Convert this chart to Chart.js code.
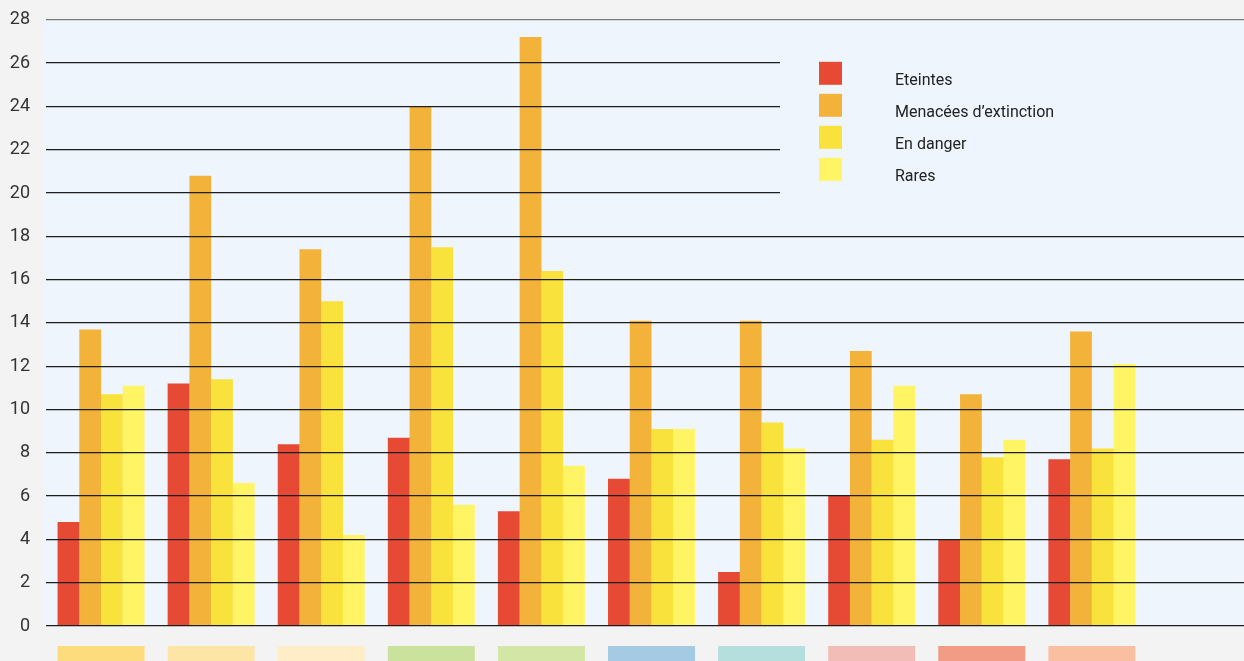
<!DOCTYPE html>
<html>
<head>
<meta charset="utf-8">
<script src="https://cdn.jsdelivr.net/npm/chart.js@4"></script>
<style>
  html, body { margin: 0; padding: 0; background: #f3f3f3; overflow: hidden; }
  #wrap { position: relative; width: 1257px; height: 668px; margin-top: -7px; }
</style>
</head>
<body>
<div id="wrap"><canvas id="chart"></canvas></div>
<script>
// Catégories (la dernière reste vide)
const categories = ['1', '2', '3', '4', '5', '6', '7', '8', '9', '10', ''];
const categoryColors = ['#fcdc7c', '#fde5a5', '#feedc7', '#cbe29c', '#d4e6a6',
                        '#a5cae4', '#b5dfdc', '#f2bdb6', '#f39c85', '#f9bfa0'];

const seriesNames = ['Eteintes', 'Menacées d\u2019extinction', 'En danger', 'Rares'];
const seriesColors = ['#e64a35', '#f3b33a', '#f9e23c', '#fff564'];

const eteintes  = [4.8, 11.2, 8.4, 8.7, 5.3, 6.8, 2.5, 6.0, 4.0, 7.7];
const menacees  = [13.7, 20.8, 17.4, 24.0, 27.2, 14.1, 14.1, 12.7, 10.7, 13.6];
const enDanger  = [10.7, 11.4, 15.0, 17.5, 16.4, 9.1, 9.4, 8.6, 7.8, 8.2];
const rares     = [11.1, 6.6, 4.2, 5.6, 7.4, 9.1, 8.2, 11.1, 8.6, 12.1];

const yTicks = [0, 2, 4, 6, 8, 10, 12, 14, 16, 18, 20, 22, 24, 26, 28];

const FONT = 'Roboto, "Liberation Sans", sans-serif';

// Fond bleu clair de la zone de tracé
const plotBackground = {
    id: 'plotBackground',
    beforeDraw(chart) {
        const { ctx, chartArea } = chart;
        ctx.save();
        ctx.fillStyle = '#eef5fc';
        ctx.fillRect(chartArea.left - 3, chartArea.top, chartArea.right - chartArea.left + 3, chartArea.bottom - chartArea.top);
        ctx.restore();
    }
};

// Cache des lignes derrière la légende, légende et bandes de couleur sous l'axe
const overlay = {
    id: 'overlay',
    afterDraw(chart) {
        const { ctx, chartArea, scales } = chart;
        ctx.save();

        // bloc de légende
        ctx.fillStyle = '#eef5fc';
        const coverTop = scales.y.getPixelForValue(28) + 1.5;
        const coverBottom = scales.y.getPixelForValue(19);
        ctx.fillRect(780, coverTop, chartArea.right - 780, coverBottom - coverTop);

        ctx.font = '16px ' + FONT;
        ctx.textAlign = 'left';
        ctx.textBaseline = 'alphabetic';
        chart.data.datasets.forEach((ds, i) => {
            const top = chartArea.top + 42 + i * 32;
            ctx.fillStyle = ds.backgroundColor;
            ctx.fillRect(819, top, 23, 23);
            ctx.fillStyle = '#222';
            ctx.fillText(ds.label, 895, top + 23);
        });

        // bandes de couleur des catégories
        const groupWidth = chart.data.datasets.length * 21.75;
        categoryColors.forEach((c, i) => {
            const x = scales.x.getPixelForValue(i);
            ctx.fillStyle = c;
            ctx.fillRect(x - groupWidth / 2, chartArea.bottom + 20, groupWidth, 20);
        });
        ctx.restore();
    }
};

const ctx = document.getElementById('chart').getContext('2d');
new Chart(ctx, {
    type: 'bar',
    data: {
        labels: categories,
        datasets: [eteintes, menacees, enDanger, rares].map((d, i) => ({
            label: seriesNames[i],
            data: d,
            backgroundColor: seriesColors[i],
            borderWidth: 0,
            categoryPercentage: 0.79,
            barPercentage: 1.0
        }))
    },
    options: {
        responsive: true,
        maintainAspectRatio: false,
        animation: false,
        layout: { padding: { top: 12, bottom: 35, left: 0, right: 0 } },
        plugins: {
            legend: { display: false },
            tooltip: { enabled: false }
        },
        scales: {
            x: {
                display: false
            },
            y: {
                min: 0,
                max: 28,
                afterFit(scale) { scale.width = 46; },
                afterBuildTicks(scale) { scale.ticks = yTicks.map(v => ({ value: v })); },
                border: { display: false },
                grid: {
                    z: 1,
                    drawTicks: false,
                    lineWidth: 1.3,
                    color: c => c.tick && c.tick.value === 28 ? '#7a7a7a' : '#1e1e1e'
                },
                ticks: {
                    padding: 16,
                    color: '#333',
                    font: { family: FONT, size: 18 }
                }
            }
        }
    },
    plugins: [plotBackground, overlay]
});
</script>
</body>
</html>
